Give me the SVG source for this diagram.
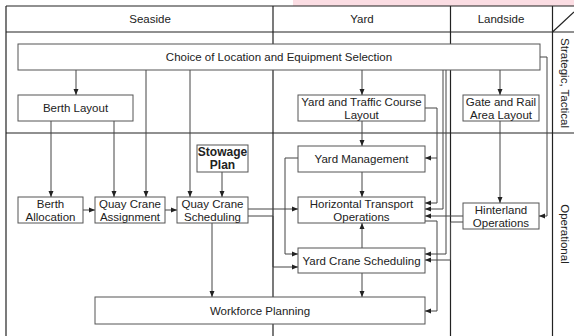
<svg xmlns="http://www.w3.org/2000/svg" width="574" height="336" viewBox="0 0 574 336">
<defs>
<marker id="ah" markerUnits="userSpaceOnUse" markerWidth="6" markerHeight="6" viewBox="0 0 6 6" refX="6" refY="3" orient="auto">
<path d="M0,0.5 L6,3 L0,5.5 Z" fill="#222"/>
</marker>
<style>
.frame{stroke:#222;stroke-width:1.2;fill:none}
.box{fill:#fff;stroke:#555;stroke-width:1}
.c{fill:none;stroke:#444;stroke-width:1}
.a{marker-end:url(#ah)}
text{font-family:"Liberation Sans",Arial,sans-serif;font-size:11.5px;fill:#222;text-anchor:middle}
.b{font-weight:bold;font-size:12px}
</style>
</defs>
<rect width="574" height="336" fill="#fff"/>
<rect x="293" y="0" width="281" height="6" fill="#fbdde3"/>
<g id="frame">
<line class="frame" x1="6" y1="6" x2="574" y2="6"/>
<line class="frame" x1="6" y1="32" x2="574" y2="32"/>
<line class="frame" x1="6" y1="133" x2="574" y2="133"/>
<line class="frame" x1="6" y1="6" x2="6" y2="336"/>
<line class="frame" x1="273" y1="6" x2="273" y2="336"/>
<line class="frame" x1="450.5" y1="6" x2="450.5" y2="336"/>
<line class="frame" x1="552.5" y1="6" x2="552.5" y2="336"/>
<line class="frame" x1="552.5" y1="32" x2="574" y2="12" stroke-width="0.8"/>
<text x="150" y="23">Seaside</text>
<text x="362" y="23">Yard</text>
<text x="501" y="23">Landside</text>
<text transform="translate(561,83) rotate(90)">Strategic, Tactical</text>
<text transform="translate(561,234) rotate(90)">Operational</text>
</g>
<g id="connectors">
<path class="c a" d="M76,70 V95"/>
<path class="c a" d="M146,70 V197"/>
<path class="c a" d="M190,70 V197"/>
<path class="c a" d="M51,121 V197"/>
<path class="c a" d="M114,121 V197"/>
<path class="c a" d="M222,172 V197"/>
<path class="c a" d="M83,210 H95"/>
<path class="c a" d="M165,210 H177"/>
<path class="c a" d="M248,209 H298"/>
<path class="c a" d="M248,216 H273 V267 H298"/>
<path class="c a" d="M212,223 V297"/>
<path class="c a" d="M362,70 V95"/>
<path class="c a" d="M362,121 V146"/>
<path class="c a" d="M362,172 V197"/>
<path class="c a" d="M362,248 V223"/>
<path class="c a" d="M362,273 V297"/>
<path class="c a" d="M298,158 H285 V254 H298"/>
<path class="c a" d="M425,108 H437 V158 H425"/>
<path class="c a" d="M437,158 V203 H425"/>
<path class="c a" d="M443,70 V209 H425"/>
<path class="c a" d="M446,70 V254 H425"/>
<path class="c a" d="M463,216 H425"/>
<path class="c a" d="M463,222 H450.5 V260 H425"/>
<path class="c a" d="M425,221 H437 V311 H425"/>
<path class="c a" d="M500,70 V95"/>
<path class="c a" d="M500,121 V203"/>
<path class="c a" d="M540,57 H547 V216 H539"/>
</g>
<g id="choice">
<rect class="box" x="18" y="44" width="522" height="26"/>
<text x="279" y="61">Choice of Location and Equipment Selection</text>
</g>
<g id="berth-layout">
<rect class="box" x="18" y="95" width="115" height="26"/>
<text x="75.5" y="112">Berth Layout</text>
</g>
<g id="yard-traffic">
<rect class="box" x="298" y="95" width="127" height="26"/>
<text x="361.5" y="106">Yard and Traffic Course</text>
<text x="361.5" y="119">Layout</text>
</g>
<g id="gate-rail">
<rect class="box" x="463" y="95" width="76" height="26"/>
<text x="501" y="106">Gate and Rail</text>
<text x="501" y="119">Area Layout</text>
</g>
<g id="stowage">
<rect class="box" x="197" y="145" width="51" height="27" stroke="#222"/>
<text class="b" x="222.5" y="156">Stowage</text>
<text class="b" x="222.5" y="169">Plan</text>
</g>
<g id="yard-management">
<rect class="box" x="298" y="146" width="127" height="26"/>
<text x="361.5" y="163">Yard Management</text>
</g>
<g id="berth-allocation">
<rect class="box" x="18" y="197" width="65" height="26"/>
<text x="50.5" y="208">Berth</text>
<text x="50.5" y="221">Allocation</text>
</g>
<g id="qc-assignment">
<rect class="box" x="95" y="197" width="70" height="26"/>
<text x="130" y="208">Quay Crane</text>
<text x="130" y="221">Assignment</text>
</g>
<g id="qc-scheduling">
<rect class="box" x="177" y="197" width="71" height="26"/>
<text x="212.5" y="208">Quay Crane</text>
<text x="212.5" y="221">Scheduling</text>
</g>
<g id="horizontal-transport">
<rect class="box" x="298" y="197" width="127" height="26"/>
<text x="361.5" y="208">Horizontal Transport</text>
<text x="361.5" y="221">Operations</text>
</g>
<g id="hinterland">
<rect class="box" x="463" y="203" width="76" height="26"/>
<text x="501" y="214">Hinterland</text>
<text x="501" y="227">Operations</text>
</g>
<g id="yard-crane">
<rect class="box" x="298" y="248" width="127" height="25"/>
<text x="361.5" y="265">Yard Crane Scheduling</text>
</g>
<g id="workforce">
<rect class="box" x="95" y="297" width="330" height="27"/>
<text x="260" y="315">Workforce Planning</text>
</g>
</svg>
